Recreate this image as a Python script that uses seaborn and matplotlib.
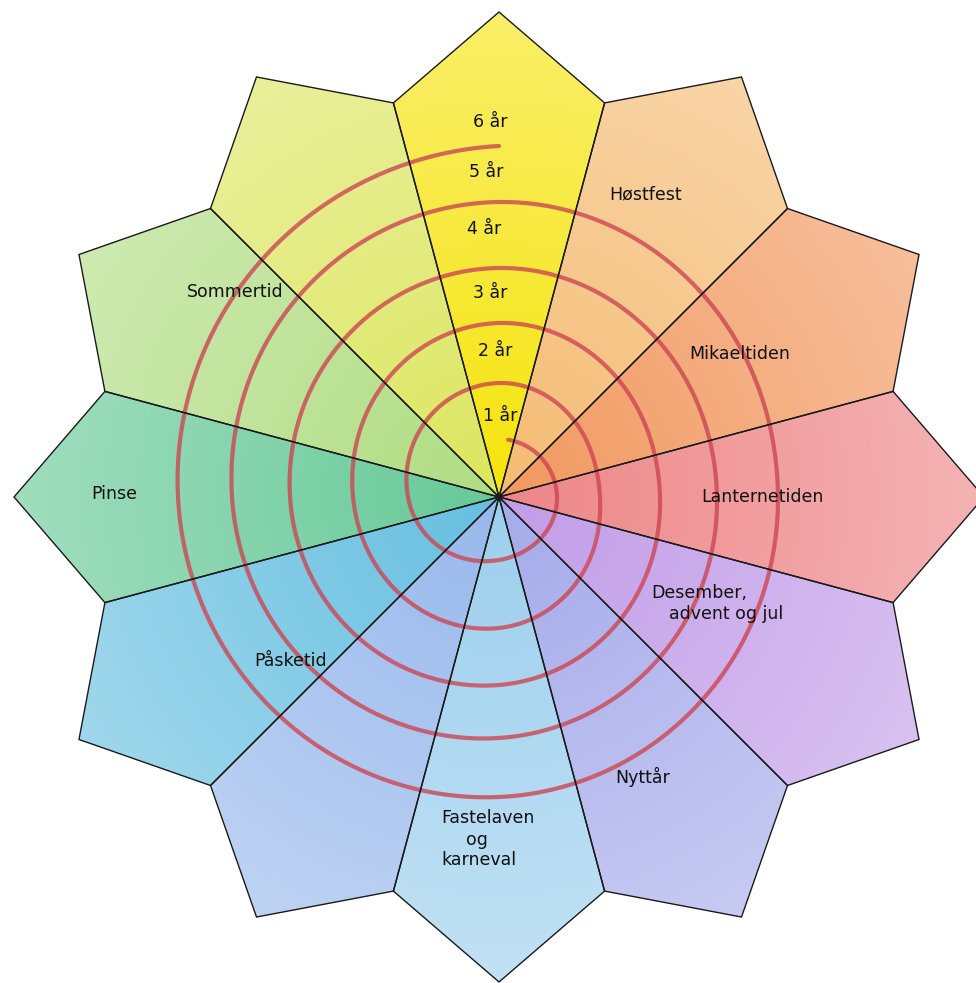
import numpy as np
import matplotlib.pyplot as plt
from matplotlib.patches import Polygon
from matplotlib.colors import to_rgb
import seaborn as sns

# seasons clockwise from the top (12 o'clock), one kite per 30 degrees
season_angles = [0, 30, 60, 90, 120, 150, 180, 210, 240, 270, 300, 330]
season_colors = ['#f6e40c', '#f5bb72', '#f2985f', '#ee8587', '#c19ce8', '#a5aaea',
                 '#9ccfee', '#97b8ec', '#66bfe0', '#66c998', '#b0dd82', '#dce65e']

# labels
season_labels = ['Høstfest', 'Mikaeltiden', 'Lanternetiden', 'Desember,', 'advent og jul',
                 'Nyttår', 'Fastelaven', 'og', 'karneval', 'Påsketid', 'Pinse', 'Sommertid']
year_labels = ['1 år', '2 år', '3 år', '4 år', '5 år', '6 år']

# spiral: radius (px from centre) read every quarter turn, clockwise from the top
spiral_turns = [0, 0.25, 0.5, 0.75, 1, 1.25, 1.5, 1.75, 2, 2.25, 2.5, 2.75,
                3, 3.25, 3.5, 3.75, 4, 4.25, 4.5, 4.75, 5]
spiral_radius = [58, 58, 63, 91, 114, 101, 131, 146, 174, 161, 188, 209,
                 229, 218, 241, 267, 295, 279, 300, 321, 351]

# layout (picture pixels)
CX, CY = 499, 497
R_SIDE, R_TIP = 408, 485
label_pos = {
    'Høstfest': (646, 194, 'center'), 'Mikaeltiden': (740, 354, 'center'),
    'Lanternetiden': (762, 497, 'center'), 'Desember,': (651, 593, 'left'),
    'advent og jul': (669, 614, 'left'), 'Nyttår': (643, 777, 'center'),
    'Fastelaven': (441, 818, 'left'), 'og': (477, 840, 'center'),
    'karneval': (441, 860, 'left'), 'Påsketid': (291, 661, 'center'),
    'Pinse': (114, 494, 'center'), 'Sommertid': (235, 292, 'center'),
}
year_pos = [(500, 416), (495, 351), (490, 293), (484, 229), (486, 172), (490, 122)]


def px(x, y):
    return x - CX, CY - y


def polar(r, ang_deg):
    a = np.deg2rad(ang_deg)
    return r * np.sin(a), r * np.cos(a)


def catmull_rom(t_pts, r_pts, t_new):
    t_pts = np.asarray(t_pts, float)
    r = np.asarray(r_pts, float)
    rp = np.concatenate([[2 * r[0] - r[1]], r, [2 * r[-1] - r[-2]]])
    i = np.clip(np.searchsorted(t_pts, t_new, side='right') - 1, 0, len(t_pts) - 2)
    s = (t_new - t_pts[i]) / (t_pts[i + 1] - t_pts[i])
    p0, p1, p2, p3 = rp[i], rp[i + 1], rp[i + 2], rp[i + 3]
    return 0.5 * (2 * p1 + (-p0 + p2) * s + (2 * p0 - 5 * p1 + 4 * p2 - p3) * s ** 2
                  + (-p0 + 3 * p1 - 3 * p2 + p3) * s ** 3)


sns.set_theme(style='white')
plt.rcParams['font.family'] = ['DejaVu Sans']

fig = plt.figure(figsize=(9.76, 9.83), dpi=100)
ax = fig.add_axes([0, 0, 1, 1])
ax.set_xlim(-CX, 976 - CX)
ax.set_ylim(CY - 983, CY)
ax.set_aspect('equal')
ax.axis('off')

# crayon-ish fill: colour fades a little toward white away from the centre
gx = np.arange(-R_TIP, R_TIP + 1, 2.0)
GX, GY = np.meshgrid(gx, gx[::-1])
fade = 0.38 * np.clip(np.hypot(GX, GY) / R_TIP, 0, 1)[..., None]

kites = []
for ang, col in zip(season_angles, season_colors):
    pts = [(0, 0), polar(R_SIDE, ang - 15), polar(R_TIP, ang), polar(R_SIDE, ang + 15)]
    kites.append(pts)
    rgb = np.array(to_rgb(col))
    img = rgb * (1 - fade) + fade
    im = ax.imshow(img, extent=(-R_TIP - 1, R_TIP + 1, -R_TIP - 1, R_TIP + 1),
                   interpolation='bilinear', zorder=1)
    clip = Polygon(pts, closed=True, facecolor='none', edgecolor='none')
    ax.add_patch(clip)
    im.set_clip_path(clip)

ax.set_xlim(-CX, 976 - CX)
ax.set_ylim(CY - 983, CY)

# spiral
t = np.linspace(0.025, 5.0, 1500)
r = catmull_rom(spiral_turns, spiral_radius, t)
sx = r * np.sin(2 * np.pi * t)
sy = r * np.cos(2 * np.pi * t)
sns.lineplot(x=sx, y=sy, sort=False, estimator=None, color='#cc4653',
             linewidth=3.0, alpha=0.8, ax=ax, zorder=2)

for pts in kites:
    ax.add_patch(Polygon(pts, closed=True, facecolor='none', edgecolor='#1a1a1a',
                         linewidth=1.0, zorder=3))

for name in season_labels:
    x, y, ha = label_pos[name]
    ax.text(*px(x, y), name, ha=ha, va='center', fontsize=12.5, color='#111111', zorder=4)

for name, (x, y) in zip(year_labels, year_pos):
    ax.text(*px(x, y), name, ha='center', va='center', fontsize=12.5, color='#111111', zorder=4)

fig.savefig('out.png', dpi=100, facecolor='white')
